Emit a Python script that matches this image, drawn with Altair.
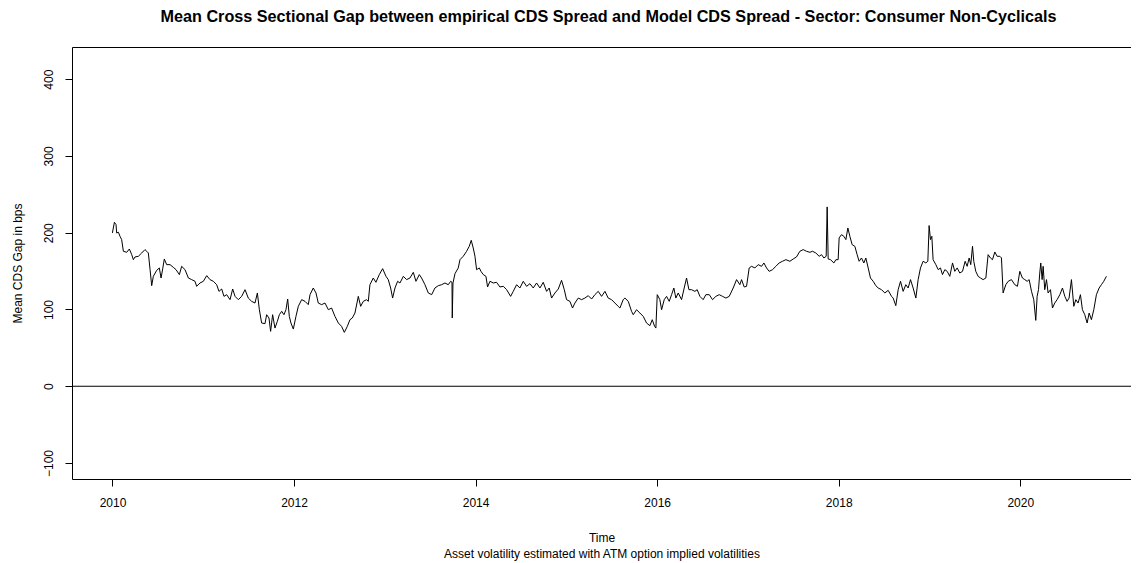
import altair as alt
import pandas as pd

# ---- data ----
years = [
    2009.999, 2010.021, 2010.039, 2010.046, 2010.065, 2010.083, 2010.101, 2010.120, 2010.157, 2010.186,
    2010.212, 2010.230, 2010.248, 2010.285, 2010.322, 2010.358, 2010.377, 2010.395, 2010.414, 2010.432,
    2010.450, 2010.487, 2010.516, 2010.535, 2010.553, 2010.571, 2010.597, 2010.634, 2010.670, 2010.700,
    2010.737, 2010.762, 2010.799, 2010.836, 2010.872, 2010.909, 2010.927, 2010.964, 2011.001, 2011.038,
    2011.074, 2011.111, 2011.148, 2011.173, 2011.203, 2011.228, 2011.258, 2011.295, 2011.324, 2011.350,
    2011.386, 2011.423, 2011.460, 2011.496, 2011.533, 2011.570, 2011.596, 2011.618, 2011.643, 2011.680,
    2011.698, 2011.724, 2011.742, 2011.764, 2011.790, 2011.816, 2011.838, 2011.864, 2011.889, 2011.911,
    2011.930, 2011.948, 2011.966, 2011.992, 2012.021, 2012.047, 2012.084, 2012.121, 2012.157, 2012.176,
    2012.212, 2012.242, 2012.267, 2012.304, 2012.341, 2012.378, 2012.414, 2012.451, 2012.488, 2012.524,
    2012.554, 2012.587, 2012.616, 2012.642, 2012.671, 2012.708, 2012.734, 2012.763, 2012.800, 2012.818,
    2012.836, 2012.873, 2012.902, 2012.939, 2012.976, 2013.013, 2013.038, 2013.064, 2013.086, 2013.112,
    2013.141, 2013.167, 2013.204, 2013.240, 2013.277, 2013.314, 2013.343, 2013.380, 2013.405, 2013.442,
    2013.479, 2013.516, 2013.552, 2013.589, 2013.626, 2013.662, 2013.699, 2013.725, 2013.740, 2013.743,
    2013.751, 2013.773, 2013.809, 2013.828, 2013.864, 2013.901, 2013.930, 2013.952, 2013.974, 2013.993,
    2014.011, 2014.041, 2014.059, 2014.085, 2014.114, 2014.132, 2014.158, 2014.195, 2014.231, 2014.268,
    2014.305, 2014.342, 2014.386, 2014.415, 2014.452, 2014.488, 2014.525, 2014.562, 2014.599, 2014.635,
    2014.672, 2014.709, 2014.745, 2014.782, 2014.811, 2014.837, 2014.874, 2014.911, 2014.947, 2014.977,
    2015.002, 2015.039, 2015.068, 2015.094, 2015.131, 2015.168, 2015.204, 2015.241, 2015.278, 2015.314,
    2015.351, 2015.388, 2015.425, 2015.461, 2015.498, 2015.535, 2015.571,
    2015.590, 2015.626, 2015.645, 2015.682, 2015.718, 2015.737, 2015.773, 2015.810, 2015.847, 2015.883,
    2015.920, 2015.946, 2015.972, 2015.986, 2016.001, 2016.030, 2016.049, 2016.078, 2016.104, 2016.133,
    2016.159, 2016.184, 2016.206, 2016.232, 2016.269, 2016.298, 2016.324, 2016.350, 2016.379, 2016.416,
    2016.441, 2016.471, 2016.507, 2016.537, 2016.574, 2016.610, 2016.647, 2016.684, 2016.720, 2016.757,
    2016.794, 2016.838, 2016.875, 2016.911, 2016.930, 2016.959, 2016.985, 2017.014, 2017.040, 2017.077,
    2017.113, 2017.150, 2017.176, 2017.205, 2017.234, 2017.271, 2017.308, 2017.344, 2017.381, 2017.418,
    2017.462, 2017.499, 2017.535, 2017.572, 2017.609, 2017.645, 2017.682, 2017.712, 2017.748, 2017.785,
    2017.811, 2017.837, 2017.862, 2017.873, 2017.884, 2017.910, 2017.947, 2017.969, 2017.994, 2018.005,
    2018.031, 2018.057, 2018.079, 2018.101, 2018.123, 2018.148, 2018.178, 2018.203, 2018.225, 2018.251,
    2018.277, 2018.299, 2018.325, 2018.350, 2018.380, 2018.409, 2018.435, 2018.472, 2018.508, 2018.545,
    2018.582, 2018.600, 2018.629, 2018.655, 2018.681, 2018.710, 2018.739, 2018.765, 2018.791, 2018.820,
    2018.850, 2018.875, 2018.901, 2018.930, 2018.960, 2018.982, 2018.996, 2019.011, 2019.026, 2019.040,
    2019.070, 2019.096, 2019.121, 2019.143, 2019.169, 2019.195, 2019.224, 2019.254, 2019.279, 2019.305,
    2019.334, 2019.364, 2019.393, 2019.415, 2019.437, 2019.455, 2019.474, 2019.488, 2019.510, 2019.536,
    2019.562, 2019.591, 2019.621, 2019.646, 2019.672, 2019.694, 2019.720, 2019.745, 2019.775, 2019.793,
    2019.811, 2019.841, 2019.867, 2019.903, 2019.940, 2019.969, 2019.995, 2020.024, 2020.050, 2020.076,
    2020.098, 2020.124, 2020.149, 2020.171, 2020.186, 2020.201, 2020.215, 2020.226, 2020.241, 2020.252,
    2020.270, 2020.289, 2020.307, 2020.333, 2020.355, 2020.380, 2020.406, 2020.436, 2020.465, 2020.491,
    2020.516, 2020.538, 2020.564, 2020.590, 2020.612, 2020.637, 2020.663, 2020.685, 2020.711, 2020.737,
    2020.759, 2020.784, 2020.810, 2020.839, 2020.869, 2020.894, 2020.920, 2020.949,
]

gap_bps = [
    199.7, 213.6, 210.6, 199.7, 200.6, 195.3, 191.0, 175.8, 174.5, 178.8,
    171.4, 164.9, 168.4, 169.3, 173.6, 178.0, 175.8, 173.6, 151.9, 131.0,
    143.2, 151.0, 154.1, 141.0, 152.8, 165.8, 158.4, 158.4, 154.9, 151.9,
    145.4, 156.2, 151.9, 141.0, 138.9, 136.7, 130.2, 134.5, 136.7, 144.1,
    138.9, 136.7, 132.3, 123.6, 126.7, 117.1, 119.3, 112.8, 126.7, 117.1,
    112.8, 117.1, 125.8, 114.9, 110.6, 108.4, 121.5, 99.7, 82.4, 81.5,
    93.2, 88.9, 71.5, 93.2, 75.8, 84.5, 93.2, 97.6, 93.2, 99.7,
    113.6, 91.0, 82.4, 74.5, 91.0, 104.1, 112.8, 110.6, 106.3, 119.3,
    128.0, 121.5, 108.4, 106.3, 108.4, 99.7, 101.9, 91.0, 82.4, 78.0,
    70.2, 78.0, 86.7, 88.9, 95.4, 117.1, 104.1, 110.6, 112.8, 110.6,
    132.3, 141.0, 135.4, 145.4, 153.2, 143.2, 138.9, 128.0, 114.9, 128.0,
    136.7, 134.5, 143.2, 138.9, 141.0, 148.4, 136.7, 145.4, 141.0, 132.3,
    121.5, 119.3, 128.0, 131.0, 132.3, 134.5, 132.3, 136.7, 135.4, 88.9,
    134.5, 146.7, 154.1, 164.9, 169.3, 175.8, 182.3, 190.1, 180.1, 169.3,
    151.9, 154.1, 149.7, 145.4, 143.2, 129.3, 136.7, 134.5, 135.4, 129.3,
    130.2, 125.8, 117.1, 123.6, 132.3, 128.0, 136.7, 130.2, 133.6, 128.0,
    134.5, 128.0, 135.4, 123.6, 128.0, 114.9, 121.5, 126.7, 138.0, 125.8,
    112.8, 110.6, 101.9, 108.4, 114.9, 112.8, 114.9, 118.0, 113.6, 119.3,
    123.6, 117.1, 123.6, 114.9, 112.8, 108.4, 104.1,
    101.9, 112.8, 114.9, 110.6, 97.6, 93.2, 99.7, 95.4, 91.0, 82.4,
    78.9, 86.7, 78.0, 75.8, 119.3, 112.8, 99.7, 112.8, 117.1, 110.6,
    119.3, 128.0, 114.9, 121.5, 112.8, 128.0, 141.0, 125.8, 125.8, 123.6,
    125.8, 117.1, 112.8, 119.3, 119.3, 112.8, 117.1, 119.3, 117.1, 114.9,
    117.1, 128.0, 138.9, 132.3, 138.9, 129.3, 130.2, 154.1, 156.2, 154.1,
    158.4, 156.2, 160.6, 154.1, 149.7, 151.9, 156.2, 160.6, 162.8, 164.9,
    162.8, 165.8, 168.4, 175.8, 178.0, 175.8, 174.5, 175.8, 173.6, 169.3,
    171.4, 167.1, 169.3, 233.6, 165.8, 164.9, 160.6, 164.9, 164.9, 193.2,
    197.5, 195.3, 191.0, 206.2, 195.3, 184.5, 182.3, 171.4, 162.8, 167.1,
    160.6, 167.1, 154.1, 141.0, 136.7, 131.0, 128.0, 125.8, 121.5, 124.9,
    117.1, 114.9, 105.0, 125.8, 136.7, 123.6, 132.3, 128.0, 138.9, 128.0,
    114.9, 138.9, 154.1, 162.8, 160.6, 162.8, 209.3, 191.0, 195.3, 164.9,
    158.4, 151.9, 154.1, 145.4, 151.9, 149.7, 143.2, 160.6, 149.7, 154.1,
    147.5, 149.7, 162.8, 156.2, 167.1, 158.4, 182.3, 162.8, 149.7, 143.2,
    141.0, 138.9, 141.0, 171.4, 167.1, 164.9, 174.9, 169.3, 169.3, 167.1,
    121.5, 132.3, 136.7, 138.9, 132.3, 130.2, 149.7, 141.0, 138.9, 136.7,
    138.9, 123.6, 112.8, 85.8, 117.1, 125.8, 147.5, 160.6, 138.9, 156.2,
    125.8, 138.9, 121.5, 125.8, 101.9, 108.4, 112.8, 119.3, 128.0, 117.1,
    110.6, 114.9, 138.9, 104.1, 112.8, 108.4, 119.3, 99.7, 93.2, 82.4,
    95.4, 86.7, 99.7, 119.3, 128.0, 132.3, 136.7, 143.2,
]

x_ticks = [2010, 2012, 2014, 2016, 2018, 2020]
y_ticks = [-100, 0, 100, 200, 300, 400]
h_lines = [0]

title_text = ("Mean Cross Sectional Gap between empirical CDS Spread and Model CDS Spread"
              " - Sector: Consumer Non-Cyclicals")
x_title = ["Time", "Asset volatility estimated with ATM option implied volatilities"]
y_title = "Mean CDS Gap in bps"

FONT = "Liberation Sans"

df = pd.DataFrame({"t": years, "gap": gap_bps})
dh = pd.DataFrame({"h": h_lines})

x_scale = alt.Scale(domain=[2009.554, 2021.220], nice=False, zero=False)
y_scale = alt.Scale(domain=[-120.8, 441.9], nice=False, zero=False)

y_axis = alt.Axis(values=y_ticks, format="d", title=y_title,
                  labelAngle=-90, labelAlign="center", labelBaseline="middle",
                  labelPadding=17, titleX=-55, titleBaseline="middle",
                  domain=True)

line = alt.Chart(df).mark_line(color="black", strokeWidth=1).encode(
    x=alt.X("t:Q", scale=x_scale,
            axis=alt.Axis(values=x_ticks, format="d", title=x_title,
                          titleLineHeight=16, titleY=62, titleBaseline="alphabetic",
                          labelPadding=11, domain=True)),
    y=alt.Y("gap:Q", scale=y_scale, axis=y_axis),
)

# top border of the plot box (R's box()) drawn as a bare top axis line
top_border = alt.Chart(df).mark_point(opacity=0).encode(
    x=alt.X("t:Q", scale=x_scale,
            axis=alt.Axis(orient="top", labels=False, ticks=False, title="", domain=True)),
    y=alt.Y("gap:Q", scale=y_scale, axis=y_axis),
)

zero_rule = alt.Chart(dh).mark_rule(color="black", strokeWidth=1).encode(
    y=alt.Y("h:Q", scale=y_scale, axis=y_axis)
)

chart = alt.layer(line, top_border, zero_rule).resolve_axis(x="independent").properties(
    width=1059,
    height=432,
    background="white",
    autosize=alt.AutoSizeParams(type="none"),
    padding={"left": 64, "top": 39, "right": 0, "bottom": 84},
    title=alt.TitleParams(text=title_text, font=FONT, fontSize=16.2, fontWeight="bold",
                          color="black", anchor="middle", frame="group",
                          baseline="alphabetic", offset=9, dx=7),
).configure_view(
    stroke="transparent"
).configure_axis(
    grid=False, domainColor="black", domainWidth=1,
    tickColor="black", tickSize=7, tickWidth=1,
    labelColor="black", labelFont=FONT, labelFontSize=12,
    titleColor="black", titleFont=FONT, titleFontSize=12, titleFontWeight="normal",
)

chart.save("out.html", embed_options={"renderer": "svg", "actions": False})
